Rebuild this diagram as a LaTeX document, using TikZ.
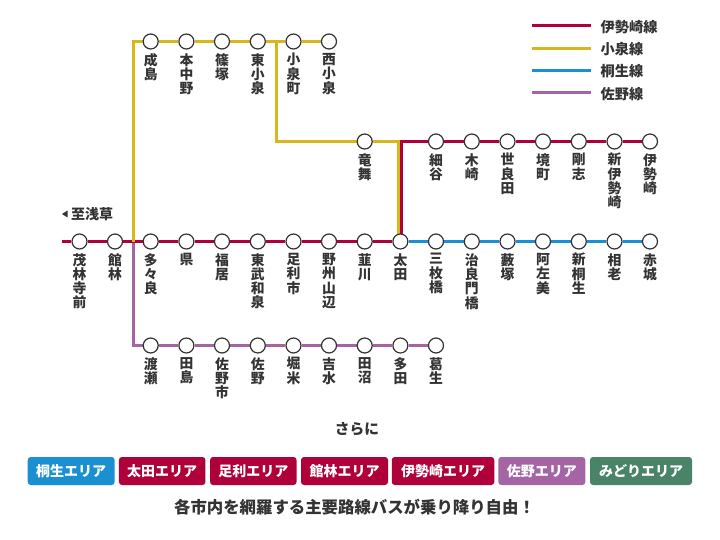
\documentclass[tikz,border=0pt]{standalone}
\usepackage{fontspec}
\setmainfont{Noto Sans CJK JP}
\usepackage{tikz}
\usetikzlibrary{backgrounds}
\definecolor{isesakired}{HTML}{B0003A}
\definecolor{koizumiyellow}{HTML}{D8B71C}
\definecolor{kiryublue}{HTML}{1A90D2}
\definecolor{sanopurple}{HTML}{A565A5}
\definecolor{midorigreen}{HTML}{4A8468}
\definecolor{inkgrey}{HTML}{333333}

\begin{document}
\begin{tikzpicture}[x=1pt,y=-1pt,
           stationname/.style={text=inkgrey, align=center, inner sep=0pt, font=\fontsize{13.8}{14.3}\selectfont\bfseries},
           station/.style={draw=inkgrey, fill=white, circle, line width=1.2pt, minimum size=15pt, inner sep=0pt,
              label={[stationname, label distance=3.5pt]below:#1}},
           isesakiline/.style={draw=isesakired, line width=3pt},
           koizumiline/.style={draw=koizumiyellow, line width=3pt},
           kiryuline/.style={draw=kiryublue, line width=3pt},
           sanoline/.style={draw=sanopurple, line width=3pt},
           legendname/.style={text=inkgrey, anchor=west, inner sep=0pt, font=\fontsize{14.2}{14.2}\selectfont\bfseries},
           plaintext/.style={text=inkgrey, inner sep=0pt, font=\bfseries},
           area/.style={fill=#1, rounded corners=3pt, text=white, inner sep=0pt, minimum height=28pt, font=\fontsize{14}{14}\selectfont\bfseries},
        ]
        \useasboundingbox (0,0) rectangle (720,540);

        % koizumi
        \node at (150.7,41.5) (narushima) [station={成\\島}] {};
        \node at (186.4,41.5) (motonakano) [station={本\\中\\野}] {};
        \node at (222,41.5) (shinozuka) [station={篠\\塚}] {};
        \node at (257.8,41.5) (higashikoizumi) [station={東\\小\\泉}] {};
        \node at (293.5,41.5) (koizumimachi) [station={小\\泉\\町}] {};
        \node at (329,41.5) (nishikoizumi) [station={西\\小\\泉}] {};
        \node at (364.7,141.5) (ryumai) [station={竜\\舞}] {};

        % isesaki
        \node at (436,141.5) (hosoya) [station={細\\谷}] {};
        \node at (471.8,141.5) (mokuzaki) [station={木\\崎}] {};
        \node at (507.5,141.5) (serada) [station={世\\良\\田}] {};
        \node at (543,141.5) (sakaimachi) [station={境\\町}] {};
        \node at (578.8,141.5) (goshi) [station={剛\\志}] {};
        \node at (614.5,141.5) (shiniseaki) [station={新\\伊\\勢\\崎}] {};
        \node at (650,141.5) (isesaki) [station={伊\\勢\\崎}] {};
        \node at (79.5,241.5) (morinjimae) [station={茂\\林\\寺\\前}] {};
        \node at (115,241.5) (tatebayashi) [station={館\\林}] {};
        \node at (150.7,241.5) (tatara) [station={多\\々\\良}] {};
        \node at (186.4,241.5) (agata) [station={県}] {};
        \node at (222,241.5) (fukui) [station={福\\居}] {};
        \node at (257.8,241.5) (tobuizumi) [station={東\\武\\和\\泉}] {};
        \node at (293.5,241.5) (ashikagashi) [station={足\\利\\市}] {};
        \node at (329,241.5) (yashuyamabe) [station={野\\州\\山\\辺}] {};
        \node at (364.7,241.5) (nirakawa) [station={韮\\川}] {};
        \node at (400.4,241.5) (ota) [station={太\\田}] {};

        % kiryu
        \node at (436,241.5) (sanmaibashi) [station={三\\枚\\橋}] {};
        \node at (471.8,241.5) (jiraemonbashi) [station={治\\良\\門\\橋}] {};
        \node at (507.5,241.5) (yabuzuka) [station={藪\\塚}] {};
        \node at (543,241.5) (azami) [station={阿\\左\\美}] {};
        \node at (578.8,241.5) (shinkiryu) [station={新\\桐\\生}] {};
        \node at (614.5,241.5) (aioi) [station={相\\老}] {};
        \node at (650,241.5) (akagi) [station={赤\\城}] {};

        % sano
        \node at (150.7,345.5) (watarase) [station={渡\\瀬}] {};
        \node at (186.4,345.5) (tajima) [station={田\\島}] {};
        \node at (222,345.5) (sanoshi) [station={佐\\野\\市}] {};
        \node at (257.8,345.5) (sano) [station={佐\\野}] {};
        \node at (293.5,345.5) (horigome) [station={堀\\米}] {};
        \node at (329,345.5) (yoshimizu) [station={吉\\水}] {};
        \node at (364.7,345.5) (tanuma) [station={田\\沼}] {};
        \node at (400.4,345.5) (tada) [station={多\\田}] {};
        \node at (436,345.5) (kuzuu) [station={葛\\生}] {};

        \coordinate (westend) at (62,241.5);
        \coordinate (tatebayashijunction) at (133.3,241.5);
        \coordinate (narushimacorner) at (133.3,41.5);
        \coordinate (watarasecorner) at (133.3,345.5);
        \coordinate (koizumibranch) at (276.8,41.5);
        \coordinate (koizumibend) at (276.8,141.5);
        \coordinate (yellowbend) at (398.7,141.5);
        \coordinate (yellowfoot) at (398.7,241.5);
        \coordinate (redbend) at (401.7,141.5);
        \coordinate (redfoot) at (401.7,241.5);

        \begin{scope}[on background layer]
        \draw[kiryuline] (ota) -- (sanmaibashi) -- (jiraemonbashi) -- (yabuzuka) -- (azami) -- (shinkiryu) -- (aioi) -- (akagi);
        \draw[sanoline] (tatebayashijunction) -- (watarasecorner) -- (watarase) -- (tajima) -- (sanoshi) -- (sano) -- (horigome) -- (yoshimizu) -- (tanuma) -- (tada) -- (kuzuu);
        \draw[isesakiline] (westend) -- (morinjimae) -- (tatebayashi) -- (tatara) -- (agata) -- (fukui) -- (tobuizumi) -- (ashikagashi) -- (yashuyamabe) -- (nirakawa) -- (ota);
        \draw[koizumiline] (tatebayashijunction) -- (narushimacorner) -- (narushima) -- (motonakano) -- (shinozuka) -- (higashikoizumi) -- (koizumimachi) -- (nishikoizumi);
        \draw[koizumiline] (koizumibranch) -- (koizumibend) -- (ryumai) -- (yellowbend) -- (yellowfoot);
        \draw[isesakiline] (redfoot) -- (redbend) -- (hosoya) -- (mokuzaki) -- (serada) -- (sakaimachi) -- (goshi) -- (shiniseaki) -- (isesaki);
        \end{scope}

        % legend
        \coordinate (legendastart) at (532,26);
        \coordinate (legendaend) at (591,26);
        \coordinate (legendbstart) at (532,48.5);
        \coordinate (legendbend) at (591,48.5);
        \coordinate (legendcstart) at (532,70.5);
        \coordinate (legendcend) at (591,70.5);
        \coordinate (legenddstart) at (532,93);
        \coordinate (legenddend) at (591,93);
        \draw[isesakiline] (legendastart) -- (legendaend);
        \draw[koizumiline] (legendbstart) -- (legendbend);
        \draw[kiryuline] (legendcstart) -- (legendcend);
        \draw[sanoline] (legenddstart) -- (legenddend);
        \node at (600.5,27) (legendisesaki) [legendname] {伊勢崎線};
        \node at (600.5,49.5) (legendkoizumi) [legendname] {小泉線};
        \node at (600.5,71.5) (legendkiryu) [legendname] {桐生線};
        \node at (600.5,94) (legendsano) [legendname] {佐野線};

        \fill[inkgrey] (62,214) -- (67.5,210.5) -- (67.5,217.5) -- cycle;
        \node at (92,214) (toasakusa) [plaintext, font=\fontsize{14}{14}\selectfont\bfseries] {至浅草};

        \node at (357,429) (sarani) [plaintext, font=\fontsize{14.7}{14.7}\selectfont\bfseries] {さらに};

        \node at (71.2,471) (areakiryu) [area=kiryublue, minimum width=87pt] {桐生エリア};
        \node at (162.2,471) (areaota) [area=isesakired, minimum width=86.5pt] {太田エリア};
        \node at (253.3,471) (areaashikaga) [area=isesakired, minimum width=86.5pt] {足利エリア};
        \node at (344.5,471) (areatatebayashi) [area=isesakired, minimum width=87pt] {館林エリア};
        \node at (443,471) (areaisesaki) [area=isesakired, minimum width=102.5pt] {伊勢崎エリア};
        \node at (541.8,471) (areasano) [area=sanopurple, minimum width=87pt] {佐野エリア};
        \node at (641,471) (areamidori) [area=midorigreen, minimum width=102pt] {みどりエリア};

        \node at (354.5,507.5) (busnote) [plaintext, font=\fontsize{16.4}{16.4}\selectfont\bfseries] {各市内を網羅する主要路線バスが乗り降り自由！};
     \end{tikzpicture}
\end{document}
